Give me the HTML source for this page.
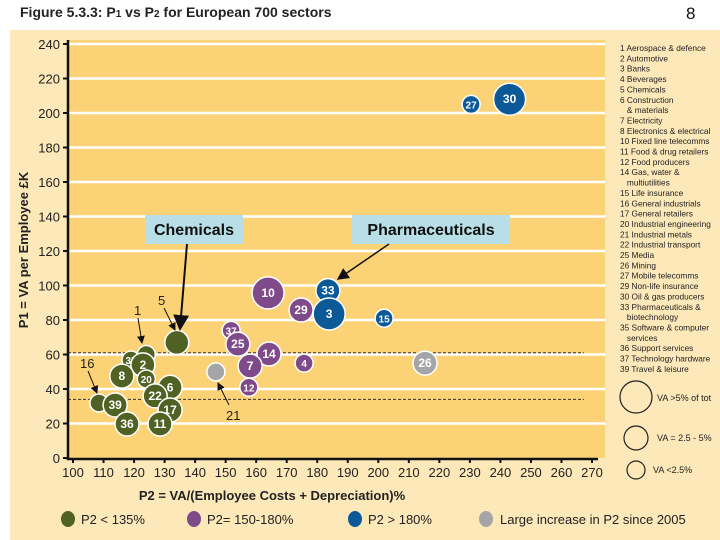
<!DOCTYPE html>
<html><head><meta charset="utf-8"><style>
body{margin:0;width:720px;height:540px;background:#fff;overflow:hidden;font-family:"Liberation Sans",sans-serif}
svg{position:absolute;left:0;top:0}
</style></head><body>
<svg id="c" width="720" height="540" xmlns="http://www.w3.org/2000/svg">
<text x="20" y="17" font-size="14" font-weight="bold" fill="#222">Figure 5.3.3: P<tspan font-size="10">1</tspan> vs P<tspan font-size="10">2</tspan> for European 700 sectors</text>
<text x="686" y="19" font-size="17" fill="#111">8</text>
<rect x="10" y="30" width="710" height="510" fill="#fde8b9"/>
<rect x="68" y="40" width="537" height="418" fill="#fcd277"/>
<g id="grid"></g><g id="axes"></g><g id="marks"></g><g id="ann"></g>
</svg>
<script>
const categories=["30","27","33","3","15","10","29","37","25","14","7","4","12","26","21","5","1","35","2","8","20","6","22","16","39","17","36","11"];
const p2Values=[243,230.4,183.5,183.9,201.9,163.9,174.7,151.8,154,164.2,158,175.7,157.6,215.3,146.8,134,124,119,122.9,116,124,131.8,126.9,108.5,113.8,131.8,117.7,128.5];
const p1Values=[208,205,97,83.5,81,95.7,85.8,74,66,60.3,53.3,55,41,55,49.9,67,60,56.8,54,47.5,45.8,41,36,31.9,30.7,27.8,19.7,19.7];
const sizeClass=[3,1,2,3,1,3,2,1,2,2,2,1,1,2,1,2,1,1,2,2,1,2,2,1,2,2,2,2];
const groups=["b","b","b","b","b","p","p","p","p","p","p","p","p","g","g","o","o","o","o","o","o","o","o","o","o","o","o","o"];
const yTicks=[0,20,40,60,80,100,120,140,160,180,200,220,240];
const xTicks=[100,110,120,130,140,150,160,170,180,190,200,210,220,230,240,250,260,270];
const refLines=[61,34];
const sectorList=["1 Aerospace & defence","2 Automotive","3 Banks","4 Beverages","5 Chemicals","6 Construction","   & materials","7 Electricity","8 Electronics & electrical","10 Fixed line telecomms","11 Food & drug retailers","12 Food producers","14 Gas, water &","   multiutilities","15 Life insurance","16 General industrials","17 General retailers","20 Industrial engineering","21 Industrial metals","22 Industrial transport","25 Media","26 Mining","27 Mobile telecomms","29 Non-life insurance","30 Oil & gas producers","33 Pharmaceuticals &","   biotechnology","35 Software & computer","   services","36 Support services","37 Technology hardware","39 Travel & leisure"];
const NS="http://www.w3.org/2000/svg";
const X=v=>73+(v-100)*3.053, Y=v=>458-v*1.725;
const col={b:"#0b5a97",p:"#7e4a89",g:"#a5a5a7",o:"#506124"};
const rad={1:9,2:12,3:16};
function mk(tag,at,parent,txt){const e=document.createElementNS(NS,tag);for(const k in at)e.setAttribute(k,at[k]);if(txt!==undefined)e.textContent=txt;document.getElementById(parent)?document.getElementById(parent).appendChild(e):parent.appendChild(e);return e;}
yTicks.forEach(t=>{
  if(t>0){const l=mk("line",{x1:68,x2:605,y1:Y(t),y2:Y(t),stroke:"#fff","stroke-width":2.5},"grid");
  
  }
  const tx=mk("text",{x:60,y:Y(t)+5,"font-size":13,"text-anchor":"end",fill:"#222"},"axes",t);
  
  
  const tk=mk("line",{x1:63,x2:68,y1:Y(t),y2:Y(t),stroke:"#111","stroke-width":2},"axes");
  
  
});
xTicks.forEach(t=>{
  const tx=mk("text",{x:X(t),y:477,"font-size":13,"text-anchor":"middle",fill:"#222"},"axes",t);
  
  
  const tk=mk("line",{x1:X(t),x2:X(t),y1:458,y2:463,stroke:"#111","stroke-width":2},"axes");
  
  
});
refLines.forEach(r=>{const l=mk("line",{x1:68,x2:584,y1:Y(r),y2:Y(r),stroke:"#333","stroke-dasharray":"3,2","stroke-width":1},"grid");

});
let ax=mk("path",{d:"M68 40 V459 H598",stroke:"#111","stroke-width":2.5,fill:"none"},"axes");


let yt=mk("text",{transform:"translate(28,250) rotate(-90)","font-size":13,"font-weight":"bold","text-anchor":"middle",fill:"#222"},"axes","P1 = VA per Employee £K");


let xt=mk("text",{x:272,y:500,"font-size":13,"font-weight":"bold","text-anchor":"middle",fill:"#222"},"axes","P2 = VA/(Employee Costs + Depreciation)%");


const order=categories.map((c,i)=>i).sort((a,b)=>rad[sizeClass[b]]-rad[sizeClass[a]]);
categories.forEach((c,i)=>{
  const cx=X(p2Values[i]),cy=Y(p1Values[i]),r=rad[sizeClass[i]];
  const g=mk("g",{},"marks");
  
  
  mk("circle",{cx:cx,cy:cy,r:r,fill:col[groups[i]],stroke:"#fff","stroke-width":1.5},g);
  if(c!=="1"&&c!=="5"&&c!=="16"&&c!=="21")mk("text",{x:cx,y:cy+4,"font-size":r>10?12:10,"font-weight":"bold","text-anchor":"middle",fill:"#fff"},g,c);
});
// annotations
const A=document.getElementById("ann");
A.innerHTML=`<defs><marker id="ah" markerWidth="8" markerHeight="8" refX="7" refY="4" orient="auto"><path d="M0 0 L8 4 L0 8z" fill="#111"/></marker></defs>
<g><rect x="145" y="215" width="98" height="29" fill="#b8dfe7"/><text x="194" y="235" font-size="16" font-weight="bold" text-anchor="middle" fill="#111">Chemicals</text>
<line x1="187" y1="244" x2="180" y2="329" stroke="#111" stroke-width="2" marker-end="url(#ah)"/></g>
<g><rect x="352" y="215" width="158" height="29" fill="#b8dfe7"/><text x="431" y="235" font-size="16" font-weight="bold" text-anchor="middle" fill="#111">Pharmaceuticals</text>
<line x1="389" y1="244" x2="338" y2="279" stroke="#111" stroke-width="1.5" marker-end="url(#ah)"/></g>
<g font-size="13" fill="#222"><text x="134" y="315">1</text><text x="158" y="305">5</text><text x="80" y="368">16</text><text x="226" y="420">21</text>
<line x1="138" y1="318" x2="142" y2="343" stroke="#111" marker-end="url(#ah)"/><line x1="164" y1="308" x2="175" y2="330" stroke="#111" marker-end="url(#ah)"/><line x1="88" y1="371" x2="97" y2="393" stroke="#111" marker-end="url(#ah)"/><line x1="229" y1="405" x2="218" y2="383" stroke="#111" marker-end="url(#ah)"/></g>
<g font-size="13" fill="#222">
<ellipse cx="68" cy="519" rx="7" ry="8" fill="#506124"/><text x="81" y="524">P2 &lt; 135%</text>
<ellipse cx="194" cy="519" rx="7" ry="8" fill="#7e4a89"/><text x="207" y="524">P2= 150-180%</text>
<ellipse cx="355" cy="519" rx="7" ry="8" fill="#0b5a97"/><text x="368" y="524">P2 &gt; 180%</text>
<ellipse cx="486" cy="519" rx="7" ry="8" fill="#a5a5a7"/><text x="500" y="524">Large increase in P2 since 2005</text></g>
<g fill="none" stroke="#222" stroke-width="1.2">
<circle cx="636" cy="397" r="16"/><circle cx="636" cy="438" r="12"/><circle cx="636" cy="470" r="9"/></g>
<g font-size="9" fill="#222"><text x="657" y="401">VA &gt;5% of tot</text><text x="657" y="441">VA = 2.5 - 5%</text><text x="653" y="473">VA &lt;2.5%</text></g>`;
const sl=mk("g",{"font-size":8.3,fill:"#222"},"ann");


sectorList.forEach((s,i)=>{const t=mk("text",{x:620,y:51+i*10.35,"xml:space":"preserve"},sl,s);t.setAttribute("style","white-space:pre");});
</script>
</body></html>
